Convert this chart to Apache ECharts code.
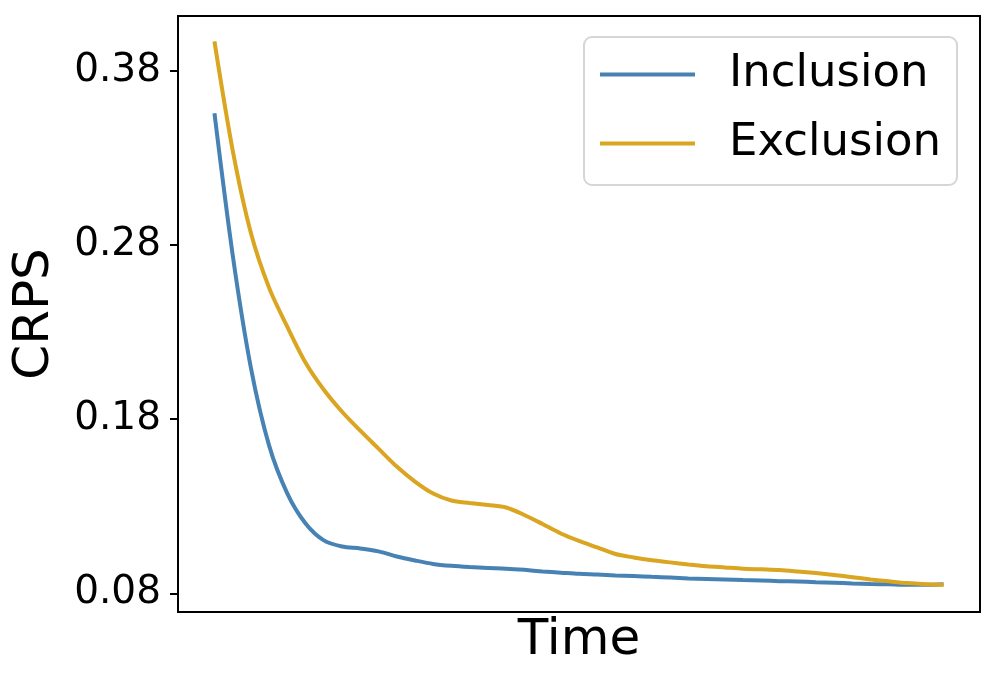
<!DOCTYPE html>
<html>
<head>
<meta charset="utf-8">
<script src="https://cdn.jsdelivr.net/npm/echarts@6/dist/echarts.min.js"></script>
<style>
html, body { margin: 0; padding: 0; background: #fff; }
#chart { width: 996px; height: 686px; }
</style>
</head>
<body>
<div id="chart"></div>
<script>
// time steps (no labels on the x axis in the original)
var steps = [];
for (var i = 0; i <= 40; i++) steps.push(i);

var inclusion = [
    0.3556, 0.2743, 0.2095, 0.1648, 0.1373, 0.1201, 0.1104, 0.1069, 0.1058, 0.1041,
    0.1012, 0.0989, 0.0969, 0.0958, 0.0951, 0.0946, 0.0942, 0.0935, 0.0926, 0.0919,
    0.0912, 0.0908, 0.0903, 0.0899, 0.0895, 0.0891, 0.0886, 0.0883, 0.0880, 0.0877,
    0.0874, 0.0870, 0.0868, 0.0864, 0.0861, 0.0857, 0.0854, 0.0852, 0.0849, 0.0849,
    0.0852
];
var exclusion = [
    0.3969, 0.3344, 0.2869, 0.2554, 0.2330, 0.2124, 0.1969, 0.1843, 0.1734, 0.1631,
    0.1528, 0.1442, 0.1373, 0.1333, 0.1319, 0.1307, 0.1293, 0.1250, 0.1198, 0.1144,
    0.1101, 0.1064, 0.1026, 0.1006, 0.0990, 0.0978, 0.0966, 0.0956, 0.0949, 0.0942,
    0.0938, 0.0934, 0.0926, 0.0917, 0.0906, 0.0893, 0.0880, 0.0869, 0.0859, 0.0853,
    0.0850
];
var yTicks = [0.08, 0.18, 0.28, 0.38];

var font = 'DejaVu Sans';

function pairs(ys) {
    return steps.map(function (x, k) { return [x, ys[k]]; });
}

var chart = echarts.init(document.getElementById('chart'));
chart.setOption({
    animation: false,
    grid: {
        left: 178, top: 16, right: 16, bottom: 74,
        show: true, borderColor: '#000', borderWidth: 2
    },
    legend: {
        left: 584, top: 37,
        orient: 'vertical',
        icon: 'rect',
        itemWidth: 95, itemHeight: 4,
        itemGap: 24,
        padding: [15, 16, 19, 16],
        borderColor: '#d6d6d6', borderWidth: 2, borderRadius: 8,
        backgroundColor: '#fff',
        textStyle: { fontFamily: font, fontSize: 45, color: '#000', padding: [0, 0, 0, 29] },
        data: ['Inclusion', 'Exclusion']
    },
    xAxis: {
        type: 'value', min: -2, max: 42,
        name: 'Time', nameLocation: 'middle', nameGap: 4,
        nameTextStyle: { fontFamily: font, fontSize: 50, color: '#000' },
        axisLine: { show: false }, axisTick: { show: false },
        axisLabel: { show: false }, splitLine: { show: false }
    },
    yAxis: {
        type: 'value', min: 0.0693, max: 0.4115,
        name: 'CRPS', nameLocation: 'middle', nameGap: 118,
        nameTextStyle: { fontFamily: font, fontSize: 50, color: '#000' },
        axisLine: { show: true, onZero: false, lineStyle: { color: '#000', width: 2 } },
        axisTick: { show: true, inside: false, length: 8, customValues: yTicks,
            lineStyle: { color: '#000', width: 2 } },
        axisLabel: { customValues: yTicks, margin: 17, fontFamily: font, fontSize: 39, color: '#000',
            formatter: function (v) { return v.toFixed(2); } },
        splitLine: { show: false }
    },
    series: [
        {
            name: 'Inclusion', type: 'line', data: pairs(inclusion),
            smooth: 0.3, showSymbol: false, color: '#4682b4',
            lineStyle: { width: 4 }
        },
        {
            name: 'Exclusion', type: 'line', data: pairs(exclusion),
            smooth: 0.3, showSymbol: false, color: '#daa520',
            lineStyle: { width: 4 }
        }
    ]
});
</script>
</body>
</html>
